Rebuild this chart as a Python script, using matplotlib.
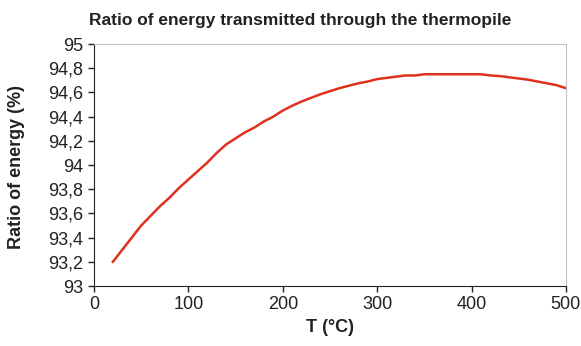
import numpy as np
import matplotlib.pyplot as plt

plt.rcParams['font.family'] = ['Liberation Sans', 'DejaVu Sans']

# data
temp = [20, 30, 40, 50, 60, 70, 80, 90, 100, 110, 120, 130, 140, 150, 160,
        170, 180, 190, 200, 210, 220, 230, 240, 250, 260, 270, 280, 290, 300,
        310, 320, 330, 340, 350, 360, 370, 380, 390, 400, 410, 420, 430, 440,
        450, 460, 470, 480, 490, 500]
ratio = [93.20, 93.30, 93.40, 93.50, 93.58, 93.66, 93.73, 93.81, 93.88, 93.95,
         94.02, 94.10, 94.17, 94.22, 94.27, 94.31, 94.36, 94.40, 94.45, 94.49,
         94.525, 94.555, 94.585, 94.61, 94.635, 94.655, 94.675, 94.69, 94.71,
         94.72, 94.73, 94.74, 94.74, 94.75, 94.75, 94.75, 94.75, 94.75, 94.75,
         94.75, 94.74, 94.735, 94.725, 94.715, 94.705, 94.69, 94.675, 94.66, 94.635]

x_ticks = [0, 100, 200, 300, 400, 500]
y_ticks = [93, 93.2, 93.4, 93.6, 93.8, 94, 94.2, 94.4, 94.6, 94.8, 95]
y_labels = ['93', '93,2', '93,4', '93,6', '93,8', '94', '94,2', '94,4', '94,6', '94,8', '95']

fig = plt.figure(figsize=(5.81, 3.46), dpi=100)
ax = fig.add_axes([0.1618, 0.1734, 0.974 - 0.1618, 0.8728 - 0.1734])

ax.plot(temp, ratio, color='#e0301e', linewidth=1.8)

ax.set_xlim(0, 500)
ax.set_ylim(93, 95)
ax.set_xticks(x_ticks)
ax.set_yticks(y_ticks)
ax.set_yticklabels(y_labels)
ax.tick_params(axis='both', labelsize=13, color='#222222', length=4,
               width=1, direction='out', labelcolor='#222222')

for side in ['top', 'right']:
    ax.spines[side].set_color('#c0c0c0')
for side in ['left', 'bottom']:
    ax.spines[side].set_color('#222222')

# title sits a bit left of the axes centre in the original
fig.text(300.5 / 581, 1 - 21 / 346, 'Ratio of energy transmitted through the thermopile',
         ha='center', va='center', fontsize=12.5, fontweight='bold', color='#222222')
ax.set_xlabel('T (°C)', fontsize=13, fontweight='bold', color='#222222', labelpad=4)
ax.set_ylabel('Ratio of energy (%)', fontsize=13, fontweight='bold', color='#222222')
ax.yaxis.set_label_coords(-0.146, 0.49)

fig.savefig('out.png', dpi=100)
